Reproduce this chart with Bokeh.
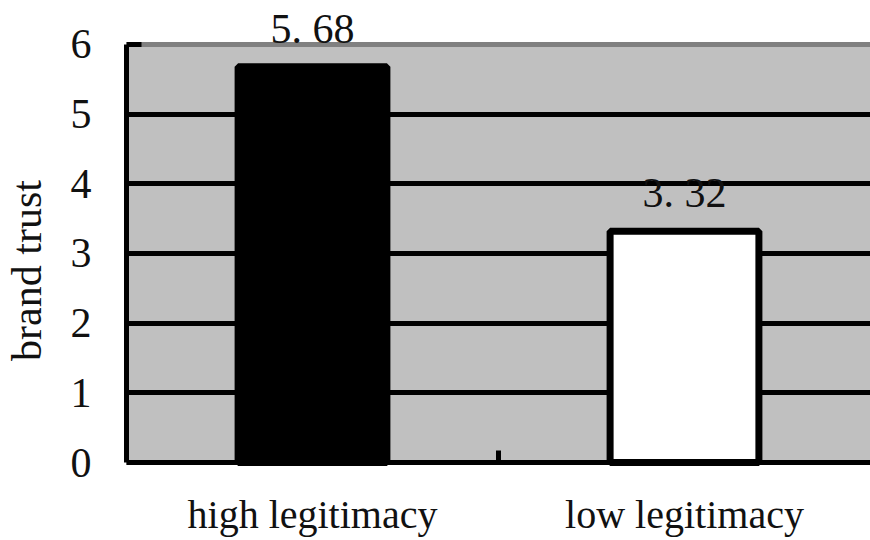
from bokeh.plotting import figure
from bokeh.models import (ColumnDataSource, Range1d, FixedTicker, LabelSet, Span,
                          BoxAnnotation)
from bokeh.embed import file_html
from bokeh.resources import INLINE

# ---- data ----
categories = ["high legitimacy", "low legitimacy"]
brand_trust = [5.68, 3.32]
bar_fill = ["#000000", "#FFFFFF"]
y_ticks = [0, 1, 2, 3, 4, 5, 6]
y_max = 6

FONT = "Liberation Serif"

centers = [i + 0.5 for i in range(len(categories))]
boundaries = list(range(len(categories) + 1))
labels = [f"{v:.2f}".replace(".", ". ") for v in brand_trust]

src = ColumnDataSource(dict(x=centers, top=brand_trust, fill=bar_fill, label=labels))

# room above and below the plotting area (in data units) for labels
headroom = 0.631
footroom = 1.119

p = figure(width=870, height=540, output_backend="svg", toolbar_location=None,
           x_range=Range1d(0, len(categories)),
           y_range=Range1d(-footroom, y_max + headroom),
           min_border_left=125, min_border_right=0, min_border_top=0,
           min_border_bottom=0)
p.background_fill_color = "#FFFFFF"
p.border_fill_color = "#FFFFFF"
p.outline_line_color = None

# plot-area background (0..y_max)
p.add_layout(BoxAnnotation(bottom=0, top=y_max, fill_color="#C0C0C0",
                           fill_alpha=1.0, line_color=None, level="image"))

# grid
p.xgrid.visible = False
p.ygrid.ticker = FixedTicker(ticks=y_ticks[1:-1])
p.ygrid.grid_line_color = "#000000"
p.ygrid.grid_line_width = 5

# top border line
p.add_layout(Span(location=y_max, dimension="width", line_color="#808080",
                  line_width=5, level="underlay"))

# bars
p.vbar(x="x", top="top", bottom=0, width=0.40, source=src,
       fill_color="fill", line_color="#000000", line_width=7)

# value labels
p.add_layout(LabelSet(x="x", y="top", text="label", source=src,
                      text_align="center", text_baseline="alphabetic",
                      y_offset=24, text_font=FONT, text_font_size="42px",
                      text_color="#111111"))

# y axis
ya = p.yaxis[0]
ya.bounds = (0, y_max)
ya.ticker = FixedTicker(ticks=y_ticks)
ya.axis_line_color = "#000000"
ya.axis_line_width = 5
ya.major_tick_in = 15
ya.major_tick_out = 0
ya.major_tick_line_width = 5
ya.major_tick_line_color = "#000000"
ya.minor_tick_line_color = None
ya.major_label_standoff = 35
ya.major_label_text_font = FONT
ya.major_label_text_font_size = "42px"
ya.major_label_text_color = "#111111"
ya.axis_label = "brand trust"
ya.axis_label_text_font = FONT
ya.axis_label_text_font_size = "42px"
ya.axis_label_text_font_style = "normal"
ya.axis_label_text_color = "#111111"
ya.axis_label_standoff = 18

# x axis, sitting at y = 0
xa = p.xaxis[0]
xa.fixed_location = 0
xa.ticker = FixedTicker(ticks=centers, minor_ticks=boundaries[1:-1])
xa.major_label_overrides = {c: name for c, name in zip(centers, categories)}
xa.axis_line_color = "#000000"
xa.axis_line_width = 5
xa.major_tick_in = 0
xa.major_tick_out = 0
xa.major_tick_line_color = None
xa.minor_tick_in = 12
xa.minor_tick_out = 0
xa.minor_tick_line_width = 5
xa.minor_tick_line_color = "#000000"
xa.major_label_standoff = 29
xa.major_label_text_font = FONT
xa.major_label_text_font_size = "40px"
xa.major_label_text_color = "#111111"

open("out.html", "w").write(file_html(p, INLINE))
